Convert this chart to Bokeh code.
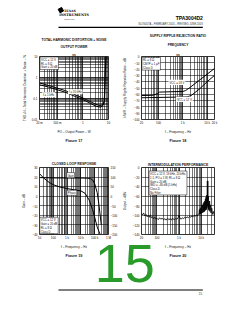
import math
from bokeh.plotting import figure
from bokeh.models import Range1d, FixedTicker, LinearAxis, Title, Label, GridBox
from bokeh.embed import file_html
from bokeh.resources import INLINE
from bokeh.core.properties import value

FONT = "Liberation Sans"

# ---------------- page texts ----------------
doc_part = "TPA3004D2"
doc_revision = "SLOS407A – FEBRUARY 2003 – REVISED JUNE 2003"
page_number = "15"

# ---------------- Figure 17: THD+N vs output power ----------------
fig17_title = ["TOTAL HARMONIC DISTORTION + NOISE", "vs", "OUTPUT POWER"]
fig17_po_20khz = [0.02, 0.05, 0.1, 0.2, 0.5, 1, 2, 3, 4, 5, 6, 7, 7.3, 7.6, 8]
fig17_thd_20khz = [0.55, 0.40, 0.31, 0.24, 0.15, 0.105, 0.07, 0.055, 0.048, 0.046, 0.052, 0.08, 0.3, 2, 10]
fig17_po_1khz = [0.02, 0.05, 0.1, 0.2, 0.5, 1, 2, 3, 4, 5, 6, 6.8, 7.1, 7.4, 7.8]
fig17_thd_1khz = [0.45, 0.34, 0.26, 0.20, 0.125, 0.088, 0.058, 0.045, 0.040, 0.039, 0.045, 0.07, 0.3, 2, 10]
fig17_x_ticks = [0.02, 0.1, 1, 10]
fig17_x_labels = ["20 m", "100 m", "1", "10"]
fig17_y_ticks = [0.01, 0.1, 1, 10]
fig17_y_labels = ["0.01", "0.1", "1", "10"]
fig17_note = "VCC = 12 V\nRL = 8 Ω\nGain = 20 dB"

# ---------------- Figure 18: kSVR vs frequency ----------------
fig18_title = ["SUPPLY RIPPLE REJECTION RATIO", "vs", "FREQUENCY"]
fig18_f_18v = [20, 60, 90, 110, 300, 1000, 1300, 2000, 5000, 10000, 20000]
fig18_ksvr_18v = [-62, -61.5, -59, -56.5, -56, -55.5, -54, -49, -37, -28, -19]
fig18_f_12v = [20, 100, 500, 1500, 2200, 5000, 10000, 20000]
fig18_ksvr_12v = [-65.5, -65, -64.5, -64, -62, -51, -40, -30]
fig18_x_ticks = [20, 100, 1000, 10000, 20000]
fig18_x_labels = ["20", "100", "1 k", "10 k", "20 k"]
fig18_y_ticks = [0, -10, -20, -30, -40, -50, -60, -70, -80, -90, -100]
fig18_note = "RL = 8 Ω\nCBYP = 1 µF\nClass D"

# ---------------- Figure 19: closed loop response ----------------
fig19_title = "CLOSED LOOP RESPONSE"
fig19_f_gain = [10, 20, 50, 100, 1000, 10000, 30000, 50000, 70000, 100000, 150000, 200000, 300000]
fig19_gain = [19.5, 19.3, 19.2, 19.1, 19, 19, 18.8, 18.3, 17, 13, 4, -8, -30]
fig19_f_phase = [10, 20, 50, 100, 300, 1000, 3000, 10000, 20000, 40000, 70000, 100000, 150000, 250000]
fig19_phase = [118, 95, 72, 60, 48, 40, 34, 28, 15, -20, -70, -110, -160, -200]
fig19_x_ticks = [10, 100, 1000, 10000, 100000, 1000000]
fig19_x_labels = ["10", "100", "1 k", "10 k", "100 k", "1 M"]
fig19_gain_ticks = [30, 20, 10, 0, -10, -20, -30, -40]
fig19_phase_ticks = [150, 100, 50, 0, -50, -100, -150, -200]
fig19_note = "VCC = 12 V\nGain = 20 dB\nRL = 8 Ω\nClass D"

# ---------------- Figure 20: intermodulation performance ----------------
fig20_title = "INTERMODULATION PERFORMANCE"
fig20_f = [20, 22, 25, 28, 32, 36, 40, 45, 50, 56, 63, 70, 80, 90, 100, 115, 130, 150, 170, 200,
           230, 260, 300, 350, 400, 450, 500, 600, 700, 800, 900, 1000, 1100, 1250, 1400, 1600,
           1800, 2000, 2300, 2600, 3000, 3400, 3800, 4300, 4800, 5400, 6000, 6700, 7300,
           8000, 8300, 8600, 9000, 9400, 9800, 10200, 10600, 11000, 11500, 12000, 12500, 13000,
           13500, 14000, 14500, 15000, 15500, 16000, 16500, 17000, 17500, 18000, 18500, 19000,
           19500, 20000, 20500, 21000, 21500, 22000, 23000, 24000, 25000, 26000, 28000, 30000,
           33000, 36000, 40000]
fig20_level = [-96, -99, -95, -101, -98, -103, -100, -104, -99, -105, -103, -107, -104, -108, -106,
               -109, -105, -108, -106, -109, -107, -110, -106, -109, -107, -110, -106, -109, -107,
               -108, -105, -100, -106, -108, -105, -107, -104, -106, -103, -105, -102, -104, -101,
               -103, -100, -102, -99, -101, -98,
               -97, -88, -98, -86, -97, -84, -96, -80, -95, -78, -94, -75, -93, -72, -92, -70, -90,
               -66, -89, -62, -88, -58, -85, -65, -28, -80, -28, -82, -60, -88, -75, -90, -70, -92,
               -78, -95, -85, -98, -92, -100]
fig20_x_ticks = [20, 100, 1000, 10000]
fig20_x_labels = ["20", "100", "1 k", "10 k"]
fig20_y_ticks = [0, -20, -40, -60, -80, -100, -120, -140]
fig20_note = ("VCC = 12 V, 19 kHz, 20 kHz,\n1:1, PO = 1 W, RL = 8 Ω\nGain = 20 dB\n"
              "IMD = –80 dB (1 kHz)\nClass D\nNo Filter")


def minors(lo, hi):
    out = []
    e = math.floor(math.log10(lo))
    while 10 ** e <= hi:
        for m in range(1, 10):
            v = m * 10 ** e
            if lo * 0.999 <= v <= hi * 1.001:
                out.append(v)
        e += 1
    return out


def style(p, tick_px="3px", lab_px="3.1px", lab_standoff=2):
    p.outline_line_color = "black"
    p.outline_line_width = 0.8
    for ax in p.axis:
        ax.major_label_text_font = FONT
        ax.major_label_text_font_size = tick_px
        ax.major_label_text_color = "#111111"
        ax.axis_label_text_font = FONT
        ax.axis_label_text_font_size = lab_px
        ax.axis_label_text_font_style = "normal"
        ax.axis_label_text_color = "#111111"
        ax.major_tick_in = 0
        ax.major_tick_out = 0
        ax.minor_tick_in = 0
        ax.minor_tick_out = 0
        ax.axis_line_color = None
        ax.major_label_standoff = 2
        ax.axis_label_standoff = lab_standoff
    for g in p.grid:
        g.grid_line_color = "black"
        g.grid_line_width = 0.6
        g.grid_line_alpha = 0.9
        g.minor_grid_line_color = "black"
        g.minor_grid_line_width = 0.6
        g.minor_grid_line_alpha = 0.9


def set_log_ticks(axis, ticks, labels, lo, hi):
    axis.ticker = FixedTicker(ticks=ticks, minor_ticks=minors(lo, hi))
    axis.major_label_overrides = dict(zip(ticks, labels))


def set_title(t, text, size="3.3px", standoff=0):
    t.text = text
    t.align = "center"
    t.text_font = FONT
    t.text_font_size = size
    t.text_font_style = "bold"
    t.text_color = "#111111"
    t.standoff = standoff


def title_lines(p, lines, standoff):
    # default title is the outermost line; later-added titles sit closer to the frame
    set_title(p.title, lines[0])
    for i, s in enumerate(lines[1:]):
        t = Title()
        set_title(t, s, standoff=standoff if i == len(lines) - 2 else 0)
        p.add_layout(t, "above")


def caption(p, text):
    p.add_layout(Title(text=text, align="center", text_font=FONT, text_font_size="3.8px",
                       text_font_style="bold", text_color="#111111", standoff=0), "below")


def note(p, x, y, text, border=True, **kw):
    p.add_layout(Label(x=x, y=y, text=text, text_font=FONT, text_font_size="2.8px",
                       text_color="#111111", text_align=kw.pop("align", "left"),
                       text_baseline=kw.pop("baseline", "top"),
                       background_fill_color="white",
                       border_line_color="black" if border else None,
                       border_line_width=0.5, padding=1, **kw))


def common(width, height, borders, **kw):
    l, r, t, b = borders
    return figure(width=width, height=height, toolbar_location=None, output_backend="svg",
                  min_border_left=l, min_border_right=r, min_border_top=t, min_border_bottom=b,
                  **kw)


# ---------------- header ----------------
hdr = figure(width=240, height=31, x_range=Range1d(0, 240), y_range=Range1d(31, 0),
             x_axis_type=None, y_axis_type=None, toolbar_location=None, output_backend="svg",
             min_border=0, outline_line_color=None)
hdr.scatter([29.3], [9.6], marker="square", size=4, color="black", angle=0.5)
hdr.text(x=[33.5], y=[10.6], text=["TEXAS"], text_font=value("DejaVu Serif"),
         text_font_size="3.2px", text_font_style="bold", text_baseline="middle", text_color="black")
hdr.text(x=[27], y=[14.6], text=["INSTRUMENTS"], text_font=value("DejaVu Serif"),
         text_font_size="3.4px", text_font_style="bold", text_baseline="middle", text_color="black")
hdr.text(x=[34], y=[18.2], text=["www.ti.com"], text_font=value(FONT),
         text_font_size="2px", text_baseline="middle", text_color="#333333")
hdr.text(x=[224], y=[17], text=[doc_part], text_font=value(FONT), text_font_size="5px",
         text_font_style="bold", text_align="right", text_baseline="middle", text_color="black")
hdr.text(x=[224], y=[23.8], text=[doc_revision], text_font=value(FONT), text_font_size="2.6px",
         text_align="right", text_baseline="middle", text_color="#333333")
hdr.segment(x0=[26], y0=[26.8], x1=[224], y1=[26.8], line_width=1.3, line_color="black")

# ---------------- Figure 17 ----------------
c1 = common(120, 111, (39, 6, 21, 16), x_axis_type="log", y_axis_type="log",
            x_range=Range1d(0.02, 10), y_range=Range1d(0.01, 10),
            x_axis_label="PO – Output Power – W",
            y_axis_label="THD+N – Total Harmonic Distortion + Noise – %")
c1.line(fig17_po_20khz, fig17_thd_20khz, line_color="black", line_width=1)
c1.line(fig17_po_1khz, fig17_thd_1khz, line_color="black", line_width=1)
set_log_ticks(c1.xaxis[0], fig17_x_ticks, fig17_x_labels, 0.02, 10)
set_log_ticks(c1.yaxis[0], fig17_y_ticks, fig17_y_labels, 0.01, 10)
style(c1)
title_lines(c1, fig17_title, 3)
caption(c1, "Figure 17")
note(c1, 0.021, 9.5, fig17_note)
note(c1, 0.5, 0.21, "f = 20 kHz", border=False, align="center", baseline="middle")
note(c1, 0.045, 0.15, "f = 1 kHz", border=False, align="center", baseline="middle")

# ---------------- Figure 18 ----------------
c2 = common(120, 111, (20, 26, 20, 16), x_axis_type="log",
            x_range=Range1d(20, 20000), y_range=Range1d(-100, 0),
            x_axis_label="f – Frequency – Hz",
            y_axis_label="kSVR – Supply Ripple Rejection Ratio – dB")
c2.line(fig18_f_18v, fig18_ksvr_18v, line_color="black", line_width=1)
c2.line(fig18_f_12v, fig18_ksvr_12v, line_color="black", line_width=1)
set_log_ticks(c2.xaxis[0], fig18_x_ticks, fig18_x_labels, 20, 20000)
c2.yaxis[0].ticker = FixedTicker(ticks=fig18_y_ticks)
style(c2)
c2.yaxis[0].axis_label_standoff = 3
title_lines(c2, fig18_title, 7)
caption(c2, "Figure 18")
note(c2, 21, -1.5, fig18_note)
note(c2, 570, -41, "VCC = 18 V", border=False, align="center", baseline="middle")
note(c2, 1150, -68, "VCC = 12 V", border=False, align="center", baseline="middle")

# ---------------- Figure 19 ----------------
c3 = common(120, 115, (37, 9, 25, 16), x_axis_type="log",
            x_range=Range1d(10, 1000000), y_range=Range1d(-40, 30),
            x_axis_label="f – Frequency – Hz", y_axis_label="Gain – dB")
c3.extra_y_ranges = {"phase": Range1d(-200, 150)}
c3.add_layout(LinearAxis(y_range_name="phase", ticker=FixedTicker(ticks=fig19_phase_ticks)), "right")
c3.line(fig19_f_gain, fig19_gain, line_color="black", line_width=1)
c3.line(fig19_f_phase, fig19_phase, line_color="black", line_width=1, y_range_name="phase")
set_log_ticks(c3.xaxis[0], fig19_x_ticks, fig19_x_labels, 10, 1000000)
c3.yaxis[0].ticker = FixedTicker(ticks=fig19_gain_ticks)
style(c3)
c3.yaxis[0].axis_label_standoff = 4
set_title(c3.title, fig19_title, size="3.4px", standoff=4)
caption(c3, "Figure 19")
note(c3, 10.5, -22, fig19_note)
note(c3, 1800, 22, "Gain", align="center", baseline="middle")
note(c3, 2200, 18, "Phase", align="center", baseline="middle", y_range_name="phase")

# ---------------- Figure 20 ----------------
c4 = common(120, 115, (20, 24, 23, 16), x_axis_type="log",
            x_range=Range1d(20, 40000), y_range=Range1d(-140, 0),
            x_axis_label="f – Frequency – Hz", y_axis_label="Output – dBV")
c4.line(fig20_f, fig20_level, line_color="black", line_width=0.8)
set_log_ticks(c4.xaxis[0], fig20_x_ticks, fig20_x_labels, 20, 40000)
c4.yaxis[0].ticker = FixedTicker(ticks=fig20_y_ticks)
style(c4)
c4.yaxis[0].axis_label_standoff = 3
set_title(c4.title, fig20_title, size="3.4px", standoff=2)
caption(c4, "Figure 20")
note(c4, 44, -7.4, fig20_note)

# ---------------- footer (transparent, overlaps the bottom of figures 19/20) ----------------
ftr = figure(width=240, height=80, x_range=Range1d(0, 240), y_range=Range1d(310, 230),
             x_axis_type=None, y_axis_type=None, toolbar_location=None, output_backend="svg",
             min_border=0, outline_line_color=None, background_fill_alpha=0,
             border_fill_alpha=0)
ftr.text(x=[117], y=[263], text=[page_number], text_font=value(FONT), text_font_size="54px",
         text_align="center", text_baseline="middle", text_color="#2a9a2a")
ftr.segment(x0=[26], y0=[289.5], x1=[224], y1=[289.5], line_width=1, line_color="black")
ftr.text(x=[223], y=[293], text=[page_number], text_font=value(FONT), text_font_size="3px",
         text_align="right", text_baseline="middle", text_color="#333333")

layout = GridBox(
    children=[(hdr, 0, 0, 1, 2), (c1, 1, 0), (c2, 1, 1), (c3, 2, 0, 2, 1), (c4, 2, 1, 2, 1),
              (ftr, 3, 0, 2, 2)],
    rows=["31px", "111px", "88px", "27px", "53px"],
    cols=["120px", "120px"],
    spacing=0,
)
open("out.html", "w").write(file_html(layout, INLINE))
